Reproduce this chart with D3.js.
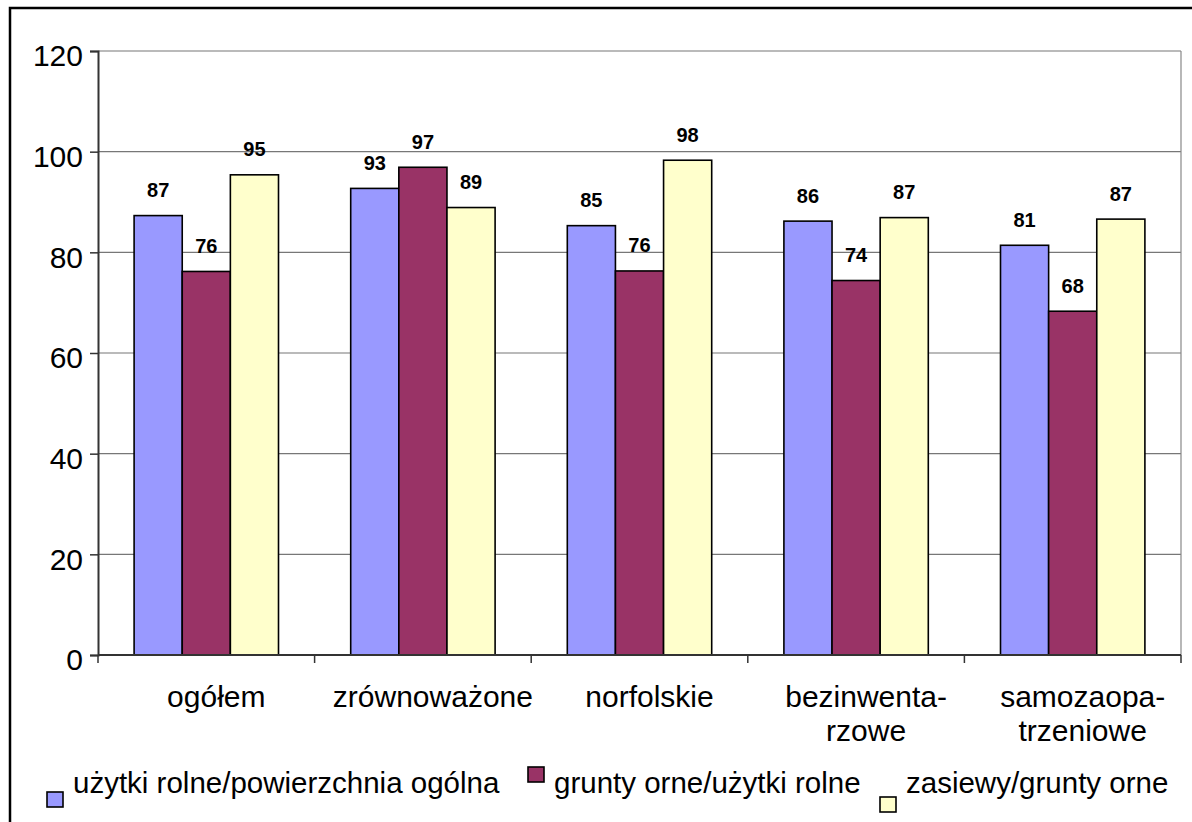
<!DOCTYPE html>
<html>
<head>
<meta charset="utf-8">
<script src="https://cdn.jsdelivr.net/npm/d3@7"></script>
<style>
  html, body { margin: 0; padding: 0; background: #fff; }
  svg { display: block; font-family: "Liberation Sans", Arial, sans-serif; }
</style>
</head>
<body>
<svg id="chart" width="1192" height="822"></svg>
<script>
const categories = ["ogółem", "zrównoważone", "norfolskie", "bezinwenta-\nrzowe", "samozaopa-\ntrzeniowe"];
const seriesNames = ["użytki rolne/powierzchnia ogólna", "grunty orne/użytki rolne", "zasiewy/grunty orne"];
const uzytkiRolne = [87.3, 92.7, 85.3, 86.2, 81.4];
const gruntyOrne = [76.2, 96.9, 76.3, 74.4, 68.3];
const zasiewy = [95.4, 88.9, 98.3, 86.9, 86.6];
const yTicks = [0, 20, 40, 60, 80, 100, 120];

const seriesValues = [uzytkiRolne, gruntyOrne, zasiewy];
const colors = ["#9999FF", "#993366", "#FFFFCC"];

const svg = d3.select("#chart");
const pLeft = 98, pRight = 1181, pTop = 51, pBottom = 655;

// outer frame
svg.append("rect").attr("x", 10).attr("y", 8).attr("width", 1300).attr("height", 1000)
  .attr("fill", "none").attr("stroke", "#000").attr("stroke-width", 2.5);

const x0 = d3.scaleBand().domain(d3.range(categories.length)).range([pLeft, pRight]).padding(0);
const bw = x0.bandwidth();
const barW = bw / 4.5;
const x1 = d3.scaleBand().domain(d3.range(seriesNames.length))
  .range([(bw - 3 * barW) / 2, (bw + 3 * barW) / 2]).padding(0);
const y = d3.scaleLinear().domain([0, 120]).range([pBottom, pTop]);

// gridlines
svg.append("g").selectAll("line").data(yTicks.filter(d => d > 0)).join("line")
  .attr("x1", pLeft).attr("x2", pRight)
  .attr("y1", d => y(d)).attr("y2", d => y(d))
  .attr("stroke", "#777").attr("stroke-width", 1.2);
// right border of plot
svg.append("line").attr("x1", pRight).attr("x2", pRight).attr("y1", pTop).attr("y2", pBottom)
  .attr("stroke", "#888").attr("stroke-width", 1.2);

// bars
const groups = svg.append("g").selectAll("g").data(categories).join("g")
  .attr("transform", (d, i) => `translate(${x0(i)},0)`);
groups.each(function(c, i) {
  const g = d3.select(this);
  seriesValues.forEach((vals, s) => {
    g.append("rect")
      .attr("x", x1(s)).attr("width", x1.bandwidth())
      .attr("y", y(vals[i])).attr("height", pBottom - y(vals[i]))
      .attr("fill", colors[s]).attr("stroke", "#000").attr("stroke-width", 1.6);
    g.append("text")
      .attr("x", x1(s) + x1.bandwidth() / 2)
      .attr("y", y(vals[i]) - 18.5)
      .attr("text-anchor", "middle")
      .attr("font-size", 20).attr("font-weight", "bold").attr("fill", "#000")
      .text(d3.format(".0f")(vals[i]));
  });
});

// y axis
const yAxis = d3.axisLeft(y).tickValues(yTicks).tickSize(8).tickPadding(7).tickFormat(d3.format("d"));
const yg = svg.append("g").attr("transform", `translate(${pLeft},0)`).call(yAxis);
yg.select(".domain").attr("stroke", "#333").attr("stroke-width", 2);
yg.selectAll(".tick line").attr("stroke", "#333").attr("stroke-width", 1.5);
yg.selectAll(".tick text").attr("font-size", 30).attr("fill", "#000")
  .attr("font-family", "'Liberation Sans', Arial, sans-serif")
  .attr("dy", "0.49em");

// x axis line and ticks at category boundaries
svg.append("line").attr("x1", pLeft).attr("x2", pRight).attr("y1", pBottom).attr("y2", pBottom)
  .attr("stroke", "#333").attr("stroke-width", 2);
const bounds = d3.range(categories.length + 1).map(i => i < categories.length ? x0(i) : pRight);
svg.append("g").selectAll("line").data(bounds).join("line")
  .attr("x1", d => d).attr("x2", d => d).attr("y1", pBottom).attr("y2", pBottom + 8)
  .attr("stroke", "#333").attr("stroke-width", 1.5);

// x labels
const xl = svg.append("g").selectAll("text").data(categories).join("text")
  .attr("text-anchor", "middle").attr("font-size", 30).attr("fill", "#000")
  .attr("transform", (d, i) => `translate(${x0(i) + bw / 2 + 10},707)`);
xl.each(function(d) {
  const t = d3.select(this);
  d.split("\n").forEach((line, k) => {
    t.append("tspan").attr("x", 0).attr("y", k * 34).text(line);
  });
});

// legend
const legendX = [47, 528, 880];
const legendSqY = [792, 767, 797];
const leg = svg.append("g").selectAll("g").data(seriesNames).join("g");
leg.append("rect")
  .attr("x", (d, i) => legendX[i]).attr("y", (d, i) => legendSqY[i])
  .attr("width", 16).attr("height", 15)
  .attr("fill", (d, i) => colors[i]).attr("stroke", "#000").attr("stroke-width", 1.6);
leg.append("text")
  .attr("x", (d, i) => legendX[i] + 26).attr("y", 793)
  .attr("font-size", 29.5).attr("fill", "#000")
  .text(d => d);
</script>
</body>
</html>
